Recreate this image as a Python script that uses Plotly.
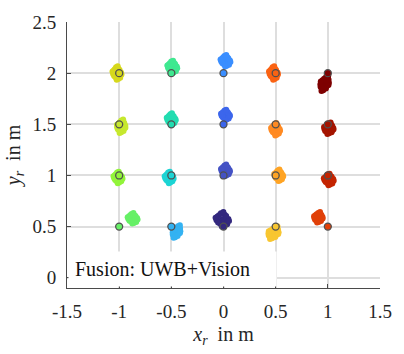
import plotly.graph_objects as go

# Reference grid positions (m)
grid_x = [-1, -0.5, 0, 0.5, 1,
          -1, -0.5, 0, 0.5, 1,
          -1, -0.5, 0, 0.5, 1,
          -1, -0.5, 0, 0.5, 1]
grid_y = [2, 2, 2, 2, 2,
          1.5, 1.5, 1.5, 1.5, 1.5,
          1, 1, 1, 1, 1,
          0.5, 0.5, 0.5, 0.5, 0.5]

# Estimated cluster centres (fusion estimates)
est_x = [-1.02, -0.49, 0.02, 0.48, 0.97,
         -0.98, -0.50, 0.02, 0.50, 1.01,
         -1.01, -0.52, 0.02, 0.53, 1.01,
         -0.87, -0.45, -0.01, 0.48, 0.91]
est_y = [2.00, 2.06, 2.12, 2.00, 1.90,
         1.48, 1.55, 1.59, 1.45, 1.46,
         0.98, 0.98, 1.05, 1.00, 0.96,
         0.58, 0.45, 0.57, 0.44, 0.59]
# spread of each cluster
spread_x = [1.0, 1.1, 1.1, 1.0, 1.0,
            1.0, 1.0, 1.0, 1.0, 1.1,
            1.0, 1.0, 1.0, 1.0, 1.1,
            1.1, 0.9, 1.5, 1.2, 1.0]
spread_y = [1.3, 1.2, 1.1, 1.3, 1.5,
            1.3, 1.1, 1.0, 1.2, 1.1,
            1.1, 1.1, 1.1, 1.1, 1.1,
            1.0, 1.2, 1.4, 1.2, 1.0]
shear = [0.0, 0.0, 0.0, 0.0, -0.6,
         -0.3, 0.0, 0.0, 0.0, -0.3,
         0.0, 0.0, 0.0, 0.0, 0.0,
         0.0, -0.7, 0.0, -0.8, -0.3]

colors = ["#d6d81c", "#3fe890", "#3a8eff", "#fa6212", "#7e0000",
          "#c6e82e", "#22dcb0", "#3c66ec", "#ff8a22", "#a41400",
          "#92f43a", "#1cd4d4", "#4452c4", "#ffa424", "#c42400",
          "#66f066", "#34b2f2", "#33287e", "#f8c630", "#e04008"]

# hand-drawn blob pattern (offsets in m)
blob_dx = [0.000, 0.025, -0.025, 0.015, -0.015, 0.032, -0.032, 0.000, 0.000,
           0.022, -0.022, 0.038, -0.038, 0.010, -0.010, 0.024, -0.028, 0.030,
           0.042, -0.044, 0.006, -0.004]
blob_dy = [0.000, 0.010, -0.010, 0.032, -0.030, -0.016, 0.020, 0.040, -0.040,
           -0.028, 0.030, 0.004, -0.006, -0.044, 0.044, 0.024, -0.022, -0.034,
           -0.010, 0.012, 0.052, -0.050]

x_ticks = [-1.5, -1, -0.5, 0, 0.5, 1, 1.5]
x_labels = ["-1.5", "-1", "-0.5", "0", "0.5", "1", "1.5"]
y_ticks = [0, 0.5, 1, 1.5, 2, 2.5]
y_labels = ["0", "0.5", "1", "1.5", "2", "2.5"]

all_x, all_y, all_c = [], [], []
for i in range(len(est_x)):
    ys = [est_y[i] + spread_y[i] * dy for dy in blob_dy]
    xs = [est_x[i] + spread_x[i] * dx - 0.6 * shear[i] * (y - est_y[i])
          for dx, y in zip(blob_dx, ys)]
    all_x += xs
    all_y += ys
    all_c += [colors[i]] * len(xs)

fig = go.Figure()
fig.add_trace(go.Scatter(
    x=all_x, y=all_y, mode="markers",
    marker=dict(size=6, color=all_c, line=dict(width=0)),
    showlegend=False))
fig.add_trace(go.Scatter(
    x=grid_x, y=grid_y, mode="markers",
    marker=dict(size=7, color=colors, line=dict(color="#505050", width=1.3)),
    showlegend=False))

serif = "Liberation Serif"

fig.update_layout(
    width=404, height=354,
    margin=dict(l=65, r=13, t=15, b=60),
    plot_bgcolor="white",
    xaxis=dict(range=[-1.5, 1.5], tickvals=x_ticks, ticktext=x_labels,
               showgrid=True, gridcolor="#dedede", gridwidth=1.5, zeroline=False,
               showline=True, linecolor="#4a4a4a", linewidth=1, ticks="inside", ticklen=4,
               tickcolor="#4a4a4a", ticklabelstandoff=6,
               tickfont=dict(family=serif, size=19, color="#262626"),
               title=dict(text="<i>x</i><sub><i>r</i></sub>\u00a0\u00a0in\u00a0m",
                          font=dict(family=serif, size=20, color="#262626"), standoff=6)),
    yaxis=dict(range=[-0.1, 2.5], tickvals=y_ticks, ticktext=y_labels,
               showgrid=True, gridcolor="#dedede", gridwidth=1.5, zeroline=False,
               showline=True, linecolor="#4a4a4a", linewidth=1, ticks="inside", ticklen=4,
               tickcolor="#4a4a4a", ticklabelstandoff=6,
               tickfont=dict(family=serif, size=19, color="#262626"),
               title=dict(text="<i>y</i><sub><i>r</i></sub>\u00a0\u00a0in\u00a0m",
                          font=dict(family=serif, size=20, color="#262626"), standoff=6)),
    annotations=[dict(x=-1.495, y=-0.095, xref="x", yref="y", xanchor="left", yanchor="bottom",
                      text="Fusion: UWB+Vision\u00a0\u00a0\u00a0\u00a0",
                      showarrow=False, bgcolor="white",
                      borderpad=6, font=dict(family=serif, size=20, color="#111111"))],
)

fig.write_html("out.html", post_script="document.body.style.margin='0px';",
               config={"displayModeBar": False})
